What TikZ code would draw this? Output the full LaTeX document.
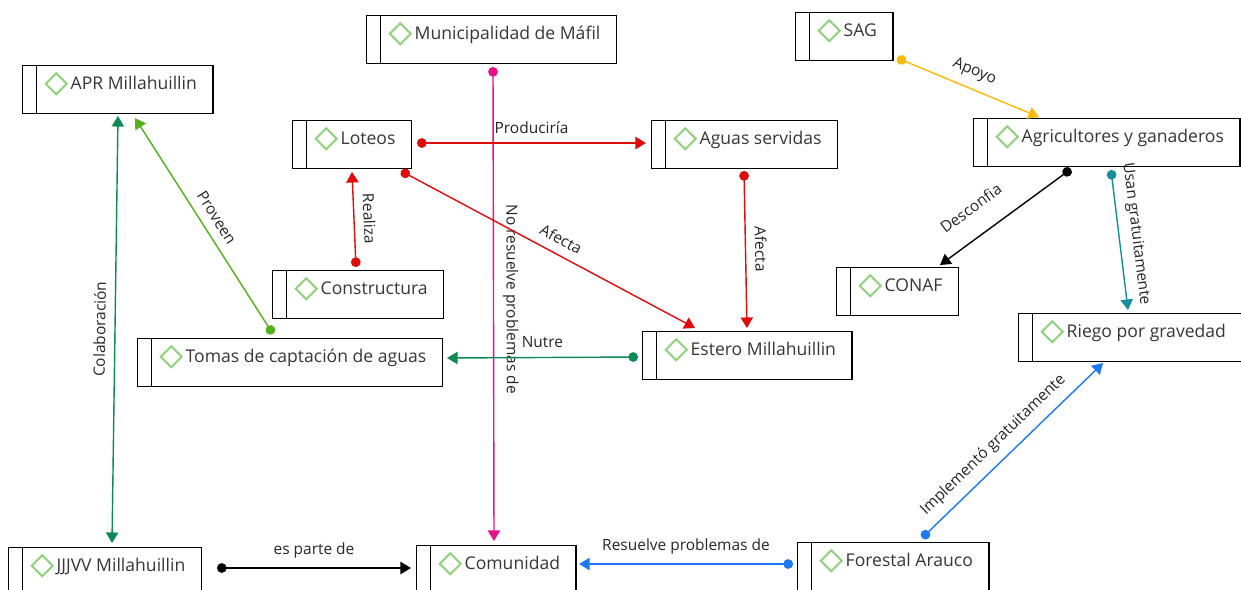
\documentclass[tikz,border=0pt]{standalone}
\usepackage{fontspec}
\setmainfont{Open Sans}
\usepackage{tikz}
\usetikzlibrary{arrows.meta, calc}
\definecolor{txt}{HTML}{363636}
\definecolor{icon}{HTML}{8FD17A}
\definecolor{cred}{HTML}{E00C0C}
\definecolor{cpink}{HTML}{E8108A}
\definecolor{cyel}{HTML}{FFBA08}
\definecolor{cteal}{HTML}{14909A}
\definecolor{cblue}{HTML}{1E78F0}
\definecolor{cdgreen}{HTML}{0E8A55}
\definecolor{clgreen}{HTML}{52B01C}

\begin{document}
\begin{tikzpicture}[
  x=0.02cm, y=-0.02cm,
  concept/.style={draw=black, line width=0.8pt, anchor=north west,
    font=\fontsize{10}{12}\selectfont, text=txt,
    inner xsep=0.32cm, inner ysep=0pt, text height=0.48cm, text depth=0.48cm,
    execute at begin node={\hspace*{0.64cm}},
    path picture={
      \draw[black, line width=0.8pt]
        ([xshift=0.28cm]path picture bounding box.north west) --
        ([xshift=0.28cm]path picture bounding box.south west);
      \draw[icon, line width=1.1pt]
        ([xshift=0.67cm,yshift=-0.36cm]path picture bounding box.north west)
        +(-0.21cm,0) -- +(0,0.21cm) -- +(0.21cm,0) -- +(0,-0.21cm) -- cycle;
    }},
  rel/.style={line width=0.8pt, {Circle[length=5.5pt]}-{Triangle[length=6pt,width=7pt]}},
  tag/.style={font=\fontsize{8.8}{10}\selectfont, text=black!85, sloped, above=4pt, inner sep=1pt}
]
  \path[use as bounding box, fill=white] (0,0) rectangle (1241,589);

  \node[concept] (apr)   at (22,65)   {APR Millahuillin};
  \node[concept] (muni)  at (366,15)  {Municipalidad de Máfil};
  \node[concept] (sag)   at (795,12)  {SAG};
  \node[concept] (lot)   at (292,120) {Loteos};
  \node[concept] (agu)   at (651,120) {Aguas servidas};
  \node[concept] (agr)   at (973,118) {Agricultores y ganaderos};
  \node[concept] (cons)  at (272,270) {Constructura};
  \node[concept] (conaf) at (836,267) {CONAF};
  \node[concept] (riego) at (1018,313) {Riego por gravedad};
  \node[concept] (tomas) at (137,338) {Tomas de captación de aguas};
  \node[concept] (est)   at (642,331) {Estero Millahuillin};
  \node[concept] (jjvv)  at (8,547)   {JJJVV Millahuillin};
  \node[concept] (com)   at (416,545) {Comunidad};
  \node[concept] (fa)    at (797,542) {Forestal Arauco};

  % Relaciones
  \draw[rel, cyel] ($(sag.north west)+(102,46)$) -- node[tag]{Apoyo} ($(agr.north west)+(66,-1)$);
  \draw[rel, black] ($(agr.north west)+(98,51)$) -- node[tag, pos=0.64, above=7pt]{Desconfia} ($(conaf.north west)+(104,-2)$);
  \draw[rel, cteal] ($(agr.north west)+(138,52)$) -- node[tag, pos=0.47]{Usan gratuitamente} ($(riego.north west)+(110,-3)$);
  \draw[rel, cblue] ($(fa.north west)+(125,-4)$) -- node[tag, pos=0.46, above=0pt]{Implementó gratuitamente} ($(riego.north west)+(85,50)$);
  \draw[rel, cblue] ($(fa.north west)+(-4,22)$) -- node[tag]{Resuelve problemas de} ($(com.north west)+(163,19)$);
  \draw[rel, black] ($(jjvv.north west)+(209,21)$) -- node[tag]{es parte de} ($(com.north west)+(-5,23)$);
  \draw[rel, cpink] ($(muni.north west)+(127,52)$) -- node[tag, pos=0.49]{No resuelve problemas de} ($(com.north west)+(78,-4)$);
  \draw[rel, cred] ($(lot.north west)+(125,23)$) -- node[tag]{Produciría} ($(agu.north west)+(-5,23)$);
  \draw[rel, cred] ($(lot.north west)+(109,51)$) -- node[tag, pos=0.52]{Afecta} ($(est.north west)+(53,-3)$);
  \draw[rel, cred] ($(cons.north west)+(84,-3)$) -- node[tag]{Realiza} ($(lot.north west)+(60,52)$);
  \draw[rel, cred] ($(agu.north west)+(93,51)$) -- node[tag]{Afecta} ($(est.north west)+(105,-3)$);
  \draw[rel, cdgreen] ($(est.north west)+(-4,26)$) -- node[tag]{Nutre} ($(tomas.north west)+(310,20)$);
  \draw[rel, clgreen] ($(tomas.north west)+(136,-4)$) -- node[tag]{Proveen} ($(apr.north west)+(113,53)$);
  \draw[rel, cdgreen, {Triangle[length=6pt,width=7pt]}-{Triangle[length=6pt,width=7pt]}]
    ($(jjvv.north west)+(104,-4)$) -- node[tag]{Colaboración} ($(apr.north west)+(96,51)$);
\end{tikzpicture}
\end{document}
